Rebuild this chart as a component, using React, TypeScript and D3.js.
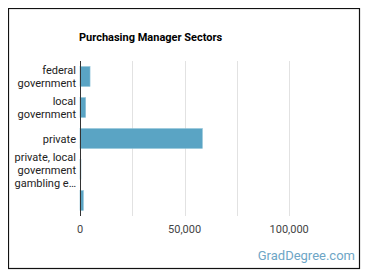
import React, { useRef, useEffect } from "react";
import * as d3 from "d3";

// category labels, already wrapped the way the reference shows them
const categoryLines: string[][] = [
  ["federal", "government"],
  ["local", "government"],
  ["private"],
  ["private, local", "government", "gambling e…"],
  [""],
];
const categories = ["federal government", "local government", "private", "private, local government gambling", "other"];
const workers = [4800, 2700, 58500, 450, 1600];
const gridTicks = [0, 25000, 50000, 75000, 100000];
const labelTicks = [0, 50000, 100000];

const title = "Purchasing Manager Sectors";
const watermark = "GradDegree.com";

const App = () => {
  const svgRef = useRef<SVGSVGElement>(null);
  const width = 353;
  const height = 262;
  // the svg sits at the body's 8px margin, so page coords = svg coords + 8
  const plot = { left: 72, right: 323, top: 53, bottom: 208 };

  useEffect(() => {
    const svg = d3.select(svgRef.current);
    svg.selectAll("*").remove();

    const font = "Roboto, 'Noto Sans', sans-serif";

    const x = d3.scaleLinear()
      .domain([0, 120000])
      .range([plot.left, plot.right]);

    const y = d3.scaleBand()
      .domain(categories)
      .range([plot.top, plot.bottom])
      .paddingInner(0.36)
      .paddingOuter(0.18);

    svg.append("rect")
      .attr("x", 0.5)
      .attr("y", 0.5)
      .attr("width", 351)
      .attr("height", 260)
      .attr("fill", "#fff")
      .attr("stroke", "#111")
      .attr("stroke-width", 1.2);

    svg.append("text")
      .attr("x", 71)
      .attr("y", 32.5)
      .attr("font-family", font)
      .attr("font-size", 11)
      .attr("font-weight", "bold")
      .attr("fill", "#000")
      .text(title);

    // gridlines
    svg.append("g")
      .selectAll("line")
      .data(gridTicks.slice(1))
      .enter()
      .append("line")
      .attr("x1", d => Math.round(x(d)) + 0.5)
      .attr("x2", d => Math.round(x(d)) + 0.5)
      .attr("y1", plot.top)
      .attr("y2", plot.bottom)
      .attr("stroke", "#e2e2e2")
      .attr("stroke-width", 1);

    // bars
    svg.append("g")
      .selectAll("rect")
      .data(workers)
      .enter()
      .append("rect")
      .attr("x", x(0))
      .attr("y", (d, i) => y(categories[i])!)
      .attr("width", d => x(d) - x(0))
      .attr("height", y.bandwidth())
      .attr("fill", "#5aa4c4")
      .attr("stroke", "#8ec2d8")
      .attr("stroke-width", 0.6);

    // zero axis line
    svg.append("line")
      .attr("x1", Math.round(x(0)) + 0.5)
      .attr("x2", Math.round(x(0)) + 0.5)
      .attr("y1", plot.top)
      .attr("y2", plot.bottom)
      .attr("stroke", "#333")
      .attr("stroke-width", 1);

    // category labels
    const lineH = 13;
    categories.forEach((c, i) => {
      const lines = categoryLines[i];
      const cy = y(c)! + y.bandwidth() / 2;
      const first = cy - ((lines.length - 1) * lineH) / 2;
      const t = svg.append("text")
        .attr("text-anchor", "end")
        .attr("font-family", font)
        .attr("font-size", 11)
        .attr("fill", "#222");
      lines.forEach((ln, j) => {
        t.append("tspan")
          .attr("x", plot.left - 4)
          .attr("y", first + j * lineH + 4)
          .text(ln);
      });
    });

    // x tick labels
    svg.append("g")
      .selectAll("text")
      .data(labelTicks)
      .enter()
      .append("text")
      .attr("x", d => x(d))
      .attr("y", plot.bottom + 17)
      .attr("text-anchor", "middle")
      .attr("font-family", font)
      .attr("font-size", 11)
      .attr("fill", "#444")
      .text(d => d3.format(",")(d));

    svg.append("text")
      .attr("x", 347)
      .attr("y", 251.5)
      .attr("text-anchor", "end")
      .attr("font-family", font)
      .attr("font-size", 13)
      .attr("fill", "#6ea6c6")
      .text(watermark);
  }, []);

  return <svg ref={svgRef} width={width} height={height} style={{ display: "block" }} />;
};

export default App;
